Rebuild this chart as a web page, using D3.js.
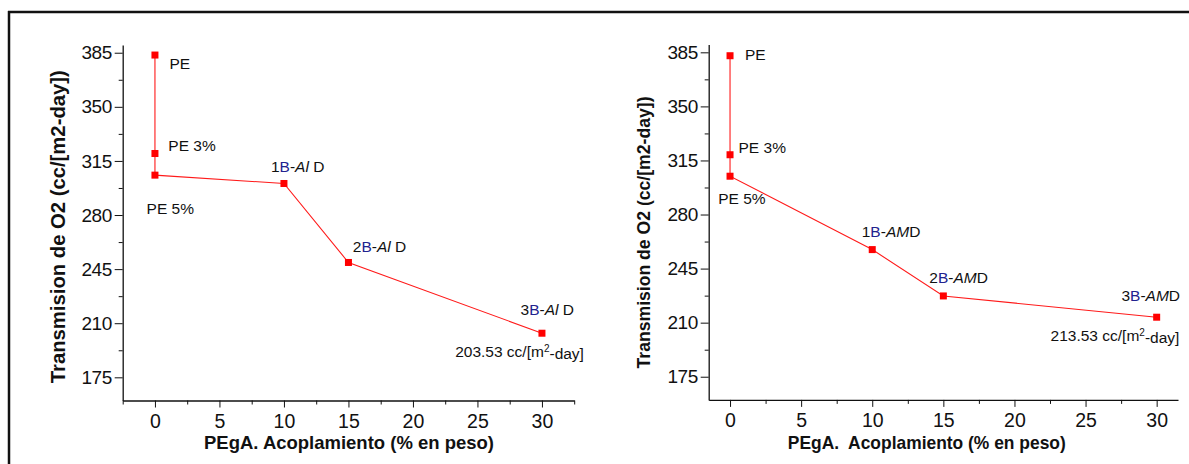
<!DOCTYPE html>
<html>
<head>
<meta charset="utf-8">
<script src="https://cdn.jsdelivr.net/npm/d3@7"></script>
<style>
  body { margin: 0; background: #fff; }
  svg text { font-family: "Liberation Sans", Arial, sans-serif; fill: #111; }
</style>
</head>
<body>
<svg id="chart" width="1189" height="464"></svg>
<script>
// data
var xVals = [0, 0, 0, 10, 15, 30];
var yAl = [383.5, 319.8, 305.8, 300.4, 249.3, 203.53];
var yAm = [382.8, 318.7, 304.8, 257.3, 227.3, 213.53];
var yTicks = [175, 210, 245, 280, 315, 350, 385];
var xTicks = [0, 5, 10, 15, 20, 25, 30];
var ptNames = ["PE", "PE 3%", "PE 5%", "1B", "2B", "3B"];
var suffixAl = "Al";
var suffixAm = "AM";
var finalAl = "203.53 cc/[m";
var finalAm = "213.53 cc/[m";
var xTitleAl = "PEgA. Acoplamiento (% en peso)";
var xTitleAm = "PEgA.\u00a0 Acoplamiento (% en peso)";
var yTitle = "Transmision de O2 (cc/[m2-day])";

var svg = d3.select("#chart");

// outer frame (top + left only visible)
svg.append("line").attr("x1", 8).attr("y1", 12).attr("x2", 1189).attr("y2", 12)
  .attr("stroke", "#111").attr("stroke-width", 2.5);
svg.append("line").attr("x1", 9).attr("y1", 11).attr("x2", 9).attr("y2", 464)
  .attr("stroke", "#111").attr("stroke-width", 2.5);

function panel(o) {
  var x = d3.scaleLinear().domain(o.xDomain).range(o.xRange);
  var y = d3.scaleLinear().domain([160, 390]).range(o.yRange);
  var g = svg.append("g");

  // minor ticks
  var xMinor = d3.range(-2.5, 33, 5).filter(function(v){ return v >= o.xDomain[0] && v <= o.xDomain[1]; });
  var yMinor = d3.range(192.5, 390, 35);

  var xAxis = g.append("g").attr("transform", "translate(0," + o.yRange[0] + ")")
    .call(d3.axisBottom(x).tickValues(xTicks).tickSize(7).tickPadding(3).tickSizeOuter(0));
  g.append("g").attr("transform", "translate(0," + o.yRange[0] + ")")
    .call(d3.axisBottom(x).tickValues(xMinor).tickSize(4).tickFormat("").tickSizeOuter(0))
    .select(".domain").remove();
  var yAxis = g.append("g").attr("transform", "translate(" + o.xRange[0] + ",0)")
    .call(d3.axisLeft(y).tickValues(yTicks).tickSize(8).tickPadding(3).tickSizeOuter(0));
  g.append("g").attr("transform", "translate(" + o.xRange[0] + ",0)")
    .call(d3.axisLeft(y).tickValues(yMinor).tickSize(4).tickFormat("").tickSizeOuter(0))
    .select(".domain").remove();

  g.selectAll(".domain").attr("stroke", "#111").attr("stroke-width", 1.3);
  g.selectAll(".tick line").attr("stroke", "#111").attr("stroke-width", 1);
  xAxis.selectAll("text").style("font-size", "19.5px").attr("fill", "#111")
    .style("font-family", "Liberation Sans, Arial").attr("dy", "0.9em");
  yAxis.selectAll("text").style("font-size", "19px").attr("fill", "#111")
    .style("font-family", "Liberation Sans, Arial").style("letter-spacing", "-0.5px");

  // line + markers
  var pts = xVals.map(function(v, i){ return [v, o.yVals[i]]; });
  g.append("path").datum(pts)
    .attr("fill", "none").attr("stroke", "#ff1a1a").attr("stroke-width", 1.1)
    .attr("d", d3.line().x(function(d){ return x(d[0]); }).y(function(d){ return y(d[1]); }));
  g.selectAll("rect.pt").data(pts).enter().append("rect")
    .attr("class", "pt")
    .attr("x", function(d){ return x(d[0]) - 3.5; })
    .attr("y", function(d){ return y(d[1]) - 3.5; })
    .attr("width", 7).attr("height", 7)
    .attr("fill", "#ff0000");

  // point labels
  pts.forEach(function(d, i){
    var off = o.offsets[i];
    var t = g.append("text")
      .attr("x", x(d[0]) + off[0]).attr("y", y(d[1]) + off[1])
      .attr("dy", "0.35em")
      .attr("text-anchor", off[2] || "start")
      .style("font-size", "15.5px");
    if (i < 3) {
      t.text(ptNames[i]);
    } else {
      var nm = ptNames[i];
      t.append("tspan").text(nm.charAt(0));
      t.append("tspan").attr("fill", "#22228f").text(nm.charAt(1));
      t.append("tspan").text("-");
      t.append("tspan").style("font-style", "italic").text(o.suffix);
      t.append("tspan").text(o.suffix == "Al" ? "\u00a0D" : "D");
    }
  });

  // value note under last point
  var last = pts[pts.length - 1];
  var nt = g.append("text")
    .attr("x", x(last[0]) + o.noteOff[0]).attr("y", y(last[1]) + o.noteOff[1])
    .attr("dy", "0.35em").attr("text-anchor", "end")
    .style("font-size", "15.5px");
  nt.append("tspan").text(o.note);
  nt.append("tspan").attr("dy", "-0.45em").style("font-size", "10px").text("2");
  nt.append("tspan").attr("dy", "0.45em").text("-day]");

  // titles
  g.append("text")
    .attr("x", o.xTitle[0]).attr("y", o.xTitle[1]).attr("dy", "0.35em")
    .attr("text-anchor", "middle")
    .attr("textLength", o.xTitle[2]).attr("lengthAdjust", "spacingAndGlyphs")
    .style("font-size", "18.5px").style("font-weight", "bold")
    .text(o.xLabel);
  g.append("text")
    .attr("transform", "translate(" + o.yTitle[0] + "," + o.yTitle[1] + ") rotate(-90)")
    .attr("dy", "0.35em").attr("text-anchor", "middle")
    .attr("textLength", o.yTitle[2]).attr("lengthAdjust", "spacingAndGlyphs")
    .style("font-size", o.yTitle[3] + "px").style("font-weight", "bold")
    .text(yTitle);
}

panel({
  xDomain: [-2.5, 32.5], xRange: [122.7, 574.2],
  yRange: [400.5, 45.0],
  yVals: yAl, suffix: suffixAl, note: finalAl,
  offsets: [[14.5, 9], [13.4, -7.6], [-8.4, 33], [-13, -16.6], [4.3, -15.7], [32, -23.6, "end"]],
  noteOff: [42, 18],
  xTitle: [349, 442.7, 290], xLabel: xTitleAl,
  yTitle: [57.5, 226.7, 313, 20]
});

panel({
  xDomain: [-1.5, 31.5], xRange: [708.7, 1178],
  yRange: [399.9, 44.6],
  yVals: yAm, suffix: suffixAm, note: finalAm,
  offsets: [[15, -0.7], [8.5, -7.6], [-11.8, 22.6], [-10.5, -18.3], [-14, -18], [23.4, -21.7, "end"]],
  noteOff: [22.7, 18.3],
  xTitle: [926.8, 442.7, 278], xLabel: xTitleAm,
  yTitle: [644, 232.5, 272, 17.5]
});
</script>
</body>
</html>
